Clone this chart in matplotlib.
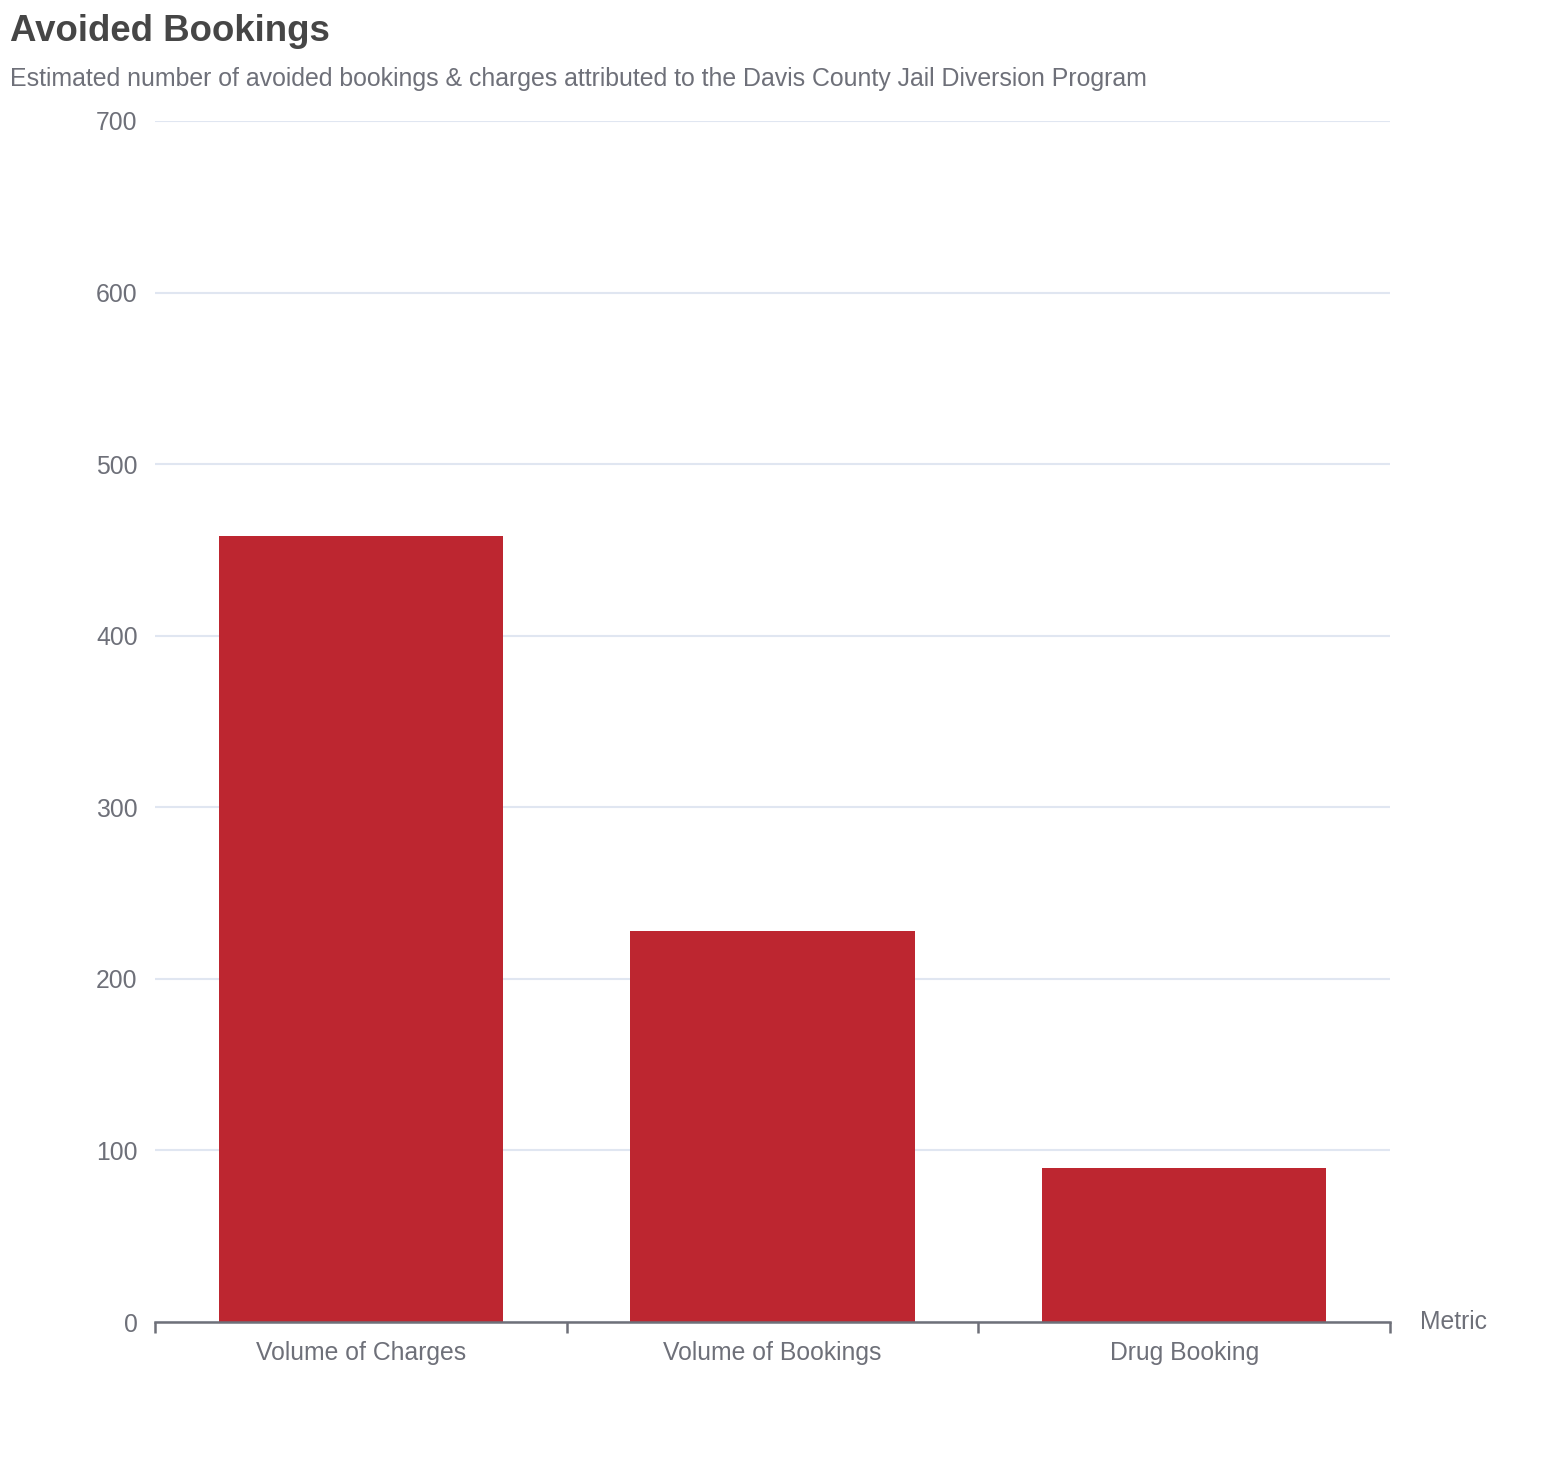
import matplotlib.pyplot as plt
import numpy as np

plt.rcParams["font.family"] = ["Liberation Sans", "DejaVu Sans"]

# data
metrics = ["Volume of Charges", "Volume of Bookings", "Drug Booking"]
avoided = [458, 228, 90]
yticks = [0, 100, 200, 300, 400, 500, 600, 700]

bar_color = "#BD2630"
text_gray = "#6E7079"
grid_color = "#E0E6F1"

fig = plt.figure(figsize=(15.44, 14.62), dpi=100)
ax = fig.add_axes([155 / 1544, 1 - 1322 / 1462, (1390 - 155) / 1544, (1322 - 121) / 1462])

x = np.arange(len(metrics))
ax.bar(x, avoided, width=0.69, color=bar_color, zorder=3)

ax.set_xlim(-0.5, len(metrics) - 0.5)
ax.set_ylim(0, 700)
ax.set_yticks(yticks)
ax.set_xticks(x)
ax.set_xticklabels(metrics)
ax.set_xticks(np.arange(-0.5, len(metrics)), minor=True)

ax.grid(axis="y", color=grid_color, linewidth=1.5, zorder=0)
ax.set_axisbelow(True)

for s in ["top", "right", "left"]:
    ax.spines[s].set_visible(False)
ax.spines["bottom"].set_color(text_gray)
ax.spines["bottom"].set_linewidth(1.8)
ax.spines["bottom"].set_zorder(4)

ax.tick_params(axis="y", length=0, pad=12.5, labelsize=17.8, labelcolor=text_gray)
ax.tick_params(axis="x", which="major", length=0, pad=14, labelsize=17.8, labelcolor=text_gray)
ax.tick_params(axis="x", which="minor", length=8, width=1.8, color=text_gray)

# axis name at the end of the x axis
ax.text(1420 / 1544, 1 - 1322 / 1462, "Metric", transform=fig.transFigure,
        fontsize=17.8, color=text_gray, ha="left", va="center")

fig.text(10 / 1544, 1 - 41 / 1462, "Avoided Bookings", fontsize=26.4, fontweight="bold",
         color="#464646", ha="left", va="baseline")
fig.text(10 / 1544, 1 - 86 / 1462,
         "Estimated number of avoided bookings & charges attributed to the Davis County Jail Diversion Program",
         fontsize=17.9, color=text_gray, ha="left", va="baseline")

fig.savefig("out.png", dpi=100, facecolor="white")
